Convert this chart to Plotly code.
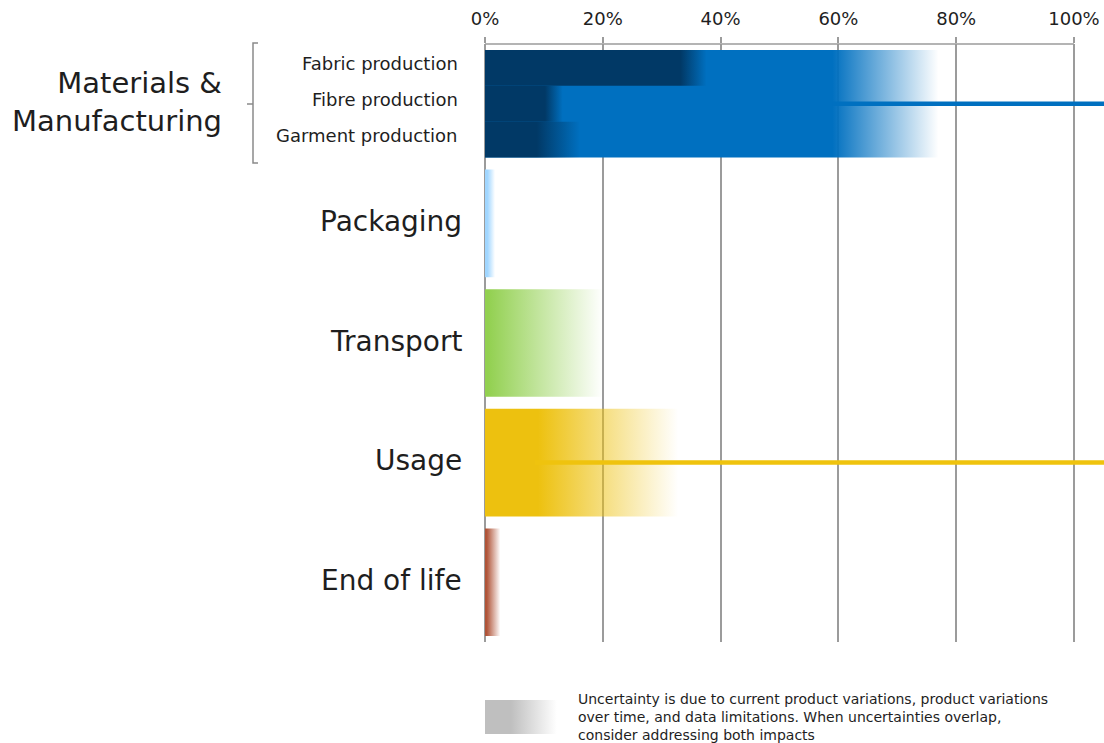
import plotly.graph_objects as go

# ---------------- data ----------------
categories = ["Materials &<br>Manufacturing", "Packaging", "Transport", "Usage", "End of life"]
solid_end = [59.0, 0.4, 0.5, 9.0, 0.3]          # % where solid colour ends
fade_end = [77.0, 1.7, 20.0, 32.8, 2.6]         # % where gradient fades out
bar_colors = [(0, 112, 192), (160, 214, 255), (146, 208, 80), (237, 193, 15), (176, 84, 56)]

sub_stages = ["Fabric production", "Fibre production", "Garment production"]
sub_solid = [33.2, 10.2, 8.8]
sub_fade = [37.6, 13.2, 16.1]
sub_color = (1, 57, 102)

# uncertainty lines: (category index, row offset, start %, end %)
unc_cat = [0, 3]
unc_offset = [0.0, 0.0]
unc_start = [59.0, 8.5]
unc_end = [112.0, 112.0]
unc_colors = ["#0070c0", "#efc30e"]

legend_solid = 4.4
legend_fade = 12.2
legend_color = (191, 191, 191)
legend_text = ("Uncertainty is due to current product variations, product variations<br>"
               "over time, and data limitations. When uncertainties overlap,<br>"
               "consider addressing both impacts")

x_ticks = [0, 20, 40, 60, 80, 100]

# ---------------- layout helpers ----------------
W, H = 1104, 743
X0_PX, X100_PX = 485, 1074
TOP_PX, BOT_PX = 44, 642
PX_PER = (X100_PX - X0_PX) / 100.0
XMAX = (W - X0_PX) / PX_PER


def px(x):
    return x / W


def py(y):
    return (H - y) / H


FONT = "DejaVu Sans"
TXT = "#1e1e1e"


def rgba(c, a):
    return f"rgba({c[0]},{c[1]},{c[2]},{a})"


def grad_rect(x_solid, x_end, y0, y1, color, xaxis="x", yaxis="y"):
    f = max(min(x_solid / x_end, 0.999), 0.0)
    return go.Scatter(
        x=[0, x_end, x_end, 0, 0], y=[y0, y0, y1, y1, y0],
        mode="lines", line=dict(width=0), fill="toself",
        fillgradient=dict(type="horizontal", start=0, stop=x_end,
                          colorscale=[[0, rgba(color, 1)], [f, rgba(color, 1)], [1, rgba(color, 0)]]),
        hoverinfo="skip", showlegend=False, xaxis=xaxis, yaxis=yaxis)


fig = go.Figure()

BAR_H = 0.9
for i, cat in enumerate(categories):
    fig.add_trace(grad_rect(solid_end[i], fade_end[i], i - BAR_H / 2, i + BAR_H / 2, bar_colors[i]))

row_h = BAR_H / len(sub_stages)
for j, s in enumerate(sub_stages):
    y0 = -BAR_H / 2 + j * row_h
    fig.add_trace(grad_rect(sub_solid[j], sub_fade[j], y0, y0 + row_h, sub_color))

for k in range(len(unc_cat)):
    yy = unc_cat[k] + unc_offset[k]
    fig.add_trace(go.Scatter(x=[unc_start[k], unc_end[k]], y=[yy, yy], mode="lines",
                             line=dict(color=unc_colors[k], width=4.5),
                             hoverinfo="skip", showlegend=False))

# legend swatch
fig.add_trace(grad_rect(legend_solid, legend_fade, 0, 1, legend_color, xaxis="x2", yaxis="y2"))

annotations = []
# category labels
for i, cat in enumerate(categories):
    if i == 0:
        annotations.append(dict(x=px(224), y=py(102), xref="paper", yref="paper", text=cat,
                                xanchor="right", yanchor="middle", align="right", showarrow=False,
                                font=dict(family=FONT, size=29, color=TXT)))
    else:
        annotations.append(dict(x=0, y=i, xref="x", yref="y", text=cat, xanchor="right",
                                yanchor="middle", xshift=-21, yshift=2, showarrow=False,
                                font=dict(family=FONT, size=28, color=TXT)))
for j, s in enumerate(sub_stages):
    yc = -BAR_H / 2 + (j + 0.5) * row_h
    annotations.append(dict(x=0, y=yc, xref="x", yref="y", text=s, xanchor="right",
                            yanchor="middle", xshift=-25, yshift=4, showarrow=False,
                            font=dict(family=FONT, size=18, color=TXT)))
annotations.append(dict(x=px(576), y=py(689), xref="paper", yref="paper", text=legend_text,
                        xanchor="left", yanchor="top", align="left", showarrow=False,
                        font=dict(family=FONT, size=14, color=TXT)))

shapes = [
    # top border line 0-100%
    dict(type="line", xref="x", yref="paper", x0=0, x1=100, y0=py(TOP_PX), y1=py(TOP_PX),
         line=dict(color="#9b9b9b", width=1.5), layer="below"),
    # bracket
    dict(type="path", xref="paper", yref="paper",
         path=(f"M {px(258)} {py(43)} L {px(253)} {py(43)} L {px(253)} {py(163)} L {px(258)} {py(163)} "
               f"M {px(253)} {py(104)} L {px(247)} {py(104)}"),
         line=dict(color="#8a8a8a", width=1.5)),
]

fig.update_layout(
    width=W, height=H, margin=dict(l=0, r=0, t=0, b=0, pad=0, autoexpand=False),
    paper_bgcolor="white", plot_bgcolor="white",
    showlegend=False,
    xaxis=dict(domain=[px(X0_PX), 1], range=[0, XMAX], side="top", tickmode="array",
               tickvals=x_ticks, ticktext=[f"{v}%" for v in x_ticks],
               showgrid=True, gridcolor="#9b9b9b", gridwidth=1.5,
               zeroline=True, zerolinecolor="#9b9b9b", zerolinewidth=1.5,
               ticks="outside", ticklen=6, tickcolor="#9b9b9b", tickwidth=1.5,
               ticklabelstandoff=5, automargin=False,
               tickfont=dict(family=FONT, size=18, color=TXT), showline=False,
               fixedrange=True),
    yaxis=dict(domain=[py(BOT_PX), py(TOP_PX)], range=[4.5, -0.5], visible=False,
               showgrid=False, zeroline=False, automargin=False),
    xaxis2=dict(domain=[px(X0_PX), 1], range=[0, XMAX], anchor="y2", visible=False,
                showgrid=False, zeroline=False, automargin=False),
    yaxis2=dict(domain=[py(734), py(700)], range=[0, 1], anchor="x2", visible=False,
                showgrid=False, zeroline=False, automargin=False),
    annotations=annotations, shapes=shapes,
)

fig.write_html("out.html")
